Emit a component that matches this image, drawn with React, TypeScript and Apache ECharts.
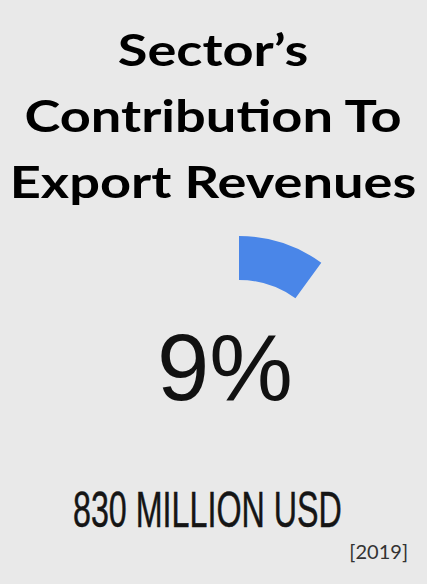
import React, { useEffect, useRef } from "react";
import * as echarts from "echarts";

const titleLines = ["Sector’s", "Contribution To", "Export Revenues"];
const shareValue = 9;
const gaugeMin = 0;
const gaugeMax = 90;
const revenueLabel = "830 MILLION USD";
const yearLabel = "[2019]";

export default function App() {
  const ref = useRef<HTMLDivElement>(null);
  useEffect(() => {
    if (!ref.current) return;
    const chart = echarts.init(ref.current, undefined, { renderer: "svg" });
    const titleGraphics = titleLines.map((line, i) => ({
      type: "text",
      x: 213,
      y: 49 + i * 66,
      scaleX: 1.26,
      style: {
        text: line,
        fontFamily: "Lato",
        fontWeight: "bold",
        fontSize: 43,
        fill: "#000000",
        textAlign: "center",
        textVerticalAlign: "middle",
      },
    }));
    chart.setOption({
      animation: false,
      backgroundColor: "#ffffff",
      graphic: [
        {
          type: "rect",
          z: -10,
          silent: true,
          shape: { x: 0, y: 0, width: 427, height: 584 },
          style: { fill: "#e9e9e9" },
        },
        ...titleGraphics,
        {
          type: "text",
          x: 73,
          y: 510,
          scaleX: 0.645,
          style: {
            text: revenueLabel,
            fontFamily: "Liberation Sans",
            fontSize: 50,
            fill: "#151515",
            stroke: "#151515",
            lineWidth: 0.5,
            textVerticalAlign: "middle",
            textAlign: "left",
          },
        },
        {
          type: "text",
          x: 408,
          y: 551,
          style: {
            text: yearLabel,
            fontFamily: "Lato",
            fontSize: 20,
            fill: "#333333",
            textVerticalAlign: "middle",
            textAlign: "right",
          },
        },
      ],
      series: [
        {
          type: "gauge",
          center: [239, 376],
          radius: 140,
          startAngle: 90,
          endAngle: -270,
          min: gaugeMin,
          max: gaugeMax,
          pointer: { show: false },
          axisLine: { show: false, lineStyle: { width: 44 } },
          axisTick: { show: false },
          splitLine: { show: false },
          axisLabel: { show: false },
          anchor: { show: false },
          title: { show: false },
          progress: {
            show: true,
            width: 44,
            roundCap: false,
            itemStyle: { color: "#4a86e8" },
          },
          detail: {
            show: true,
            formatter: "{value}%",
            offsetCenter: [-14, -9],
            fontFamily: "Liberation Sans",
            fontWeight: "normal",
            fontSize: 94,
            color: "#111111",
          },
          data: [{ value: shareValue }],
        },
      ],
    });
    return () => chart.dispose();
  }, []);
  return (
    <div
      ref={ref}
      style={{ position: "fixed", left: 0, top: 0, width: 430, height: 585 }}
    />
  );
}
